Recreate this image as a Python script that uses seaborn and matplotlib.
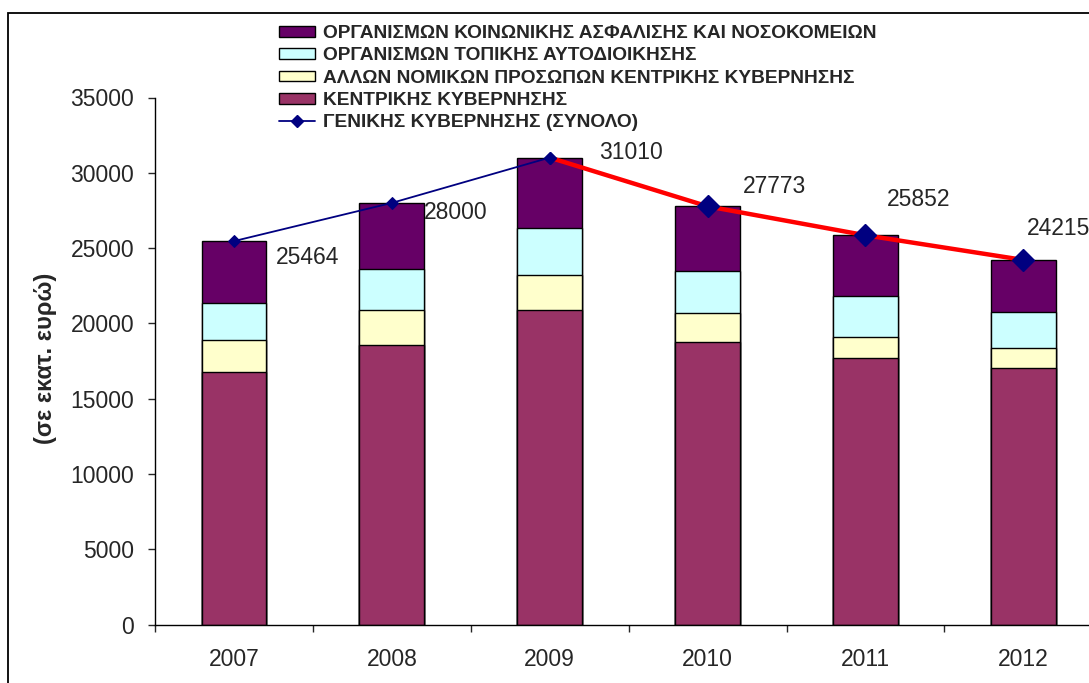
import numpy as np
import matplotlib
matplotlib.use("Agg")
import matplotlib.pyplot as plt
import seaborn as sns
from matplotlib.patches import Patch, Rectangle
from matplotlib.lines import Line2D

# Δεδομένα (εκατ. ευρώ)
years = ["2007", "2008", "2009", "2010", "2011", "2012"]
central = [16770, 18560, 20890, 18740, 17680, 17060]      # ΚΕΝΤΡΙΚΗΣ ΚΥΒΕΡΝΗΣΗΣ
other_legal = [2130, 2330, 2330, 1950, 1440, 1290]        # ΑΛΛΩΝ ΝΟΜΙΚΩΝ ΠΡΟΣΩΠΩΝ
local_gov = [2460, 2710, 3100, 2810, 2730, 2420]          # ΟΡΓΑΝΙΣΜΩΝ ΤΟΠΙΚΗΣ ΑΥΤΟΔΙΟΙΚΗΣΗΣ
social = [4104, 4400, 4690, 4273, 4002, 3445]             # ΟΡΓΑΝΙΣΜΩΝ ΚΟΙΝΩΝΙΚΗΣ ΑΣΦΑΛΙΣΗΣ
total = [25464, 28000, 31010, 27773, 25852, 24215]        # ΓΕΝΙΚΗΣ ΚΥΒΕΡΝΗΣΗΣ

labels = ["ΟΡΓΑΝΙΣΜΩΝ ΚΟΙΝΩΝΙΚΗΣ ΑΣΦΑΛΙΣΗΣ ΚΑΙ ΝΟΣΟΚΟΜΕΙΩΝ",
          "ΟΡΓΑΝΙΣΜΩΝ ΤΟΠΙΚΗΣ ΑΥΤΟΔΙΟΙΚΗΣΗΣ",
          "ΑΛΛΩΝ ΝΟΜΙΚΩΝ ΠΡΟΣΩΠΩΝ ΚΕΝΤΡΙΚΗΣ ΚΥΒΕΡΝΗΣΗΣ",
          "ΚΕΝΤΡΙΚΗΣ ΚΥΒΕΡΝΗΣΗΣ",
          "ΓΕΝΙΚΗΣ ΚΥΒΕΡΝΗΣΗΣ (ΣΥΝΟΛΟ)"]
colors = ["#660066", "#CCFFFF", "#FFFFCC", "#993366"]

sns.set_style("white")
plt.rcParams['font.family'] = ['Liberation Sans', 'DejaVu Sans']

fig = plt.figure(figsize=(10.89, 6.83), dpi=100)
ax = fig.add_axes([155 / 1089, 58.4 / 683, 947.3 / 1089, 527.1 / 683])

# στοιβαγμένες μπάρες (σωρευτικά, από το μεγαλύτερο προς το μικρότερο)
layers = [np.array(central), np.array(other_legal), np.array(local_gov), np.array(social)]
cum = np.cumsum(layers, axis=0)
for i, c in zip([3, 2, 1, 0], colors):
    sns.barplot(x=years, y=cum[i], color=c, saturation=1, width=0.41,
                edgecolor="black", linewidth=1, ax=ax)

pos = np.arange(len(years))
sns.lineplot(x=pos[:3], y=total[:3], color="#000080", lw=1.3, marker="D",
             markersize=6, mec="#000080", ax=ax)
sns.lineplot(x=pos[2:], y=total[2:], color="#FF0000", lw=3.2, ax=ax)
ax.plot(pos[3:], total[3:], ls="", marker="D", markersize=11, color="#000080")
ax.plot(pos[2:3], total[2:3], ls="", marker="D", markersize=6, color="#000080")

# ετικέτες τιμών
offsets = [(42, -16), (32, -10), (49, 5), (35, 20), (21, 36), (4, 31)]
for x, v, off in zip(pos, total, offsets):
    ax.annotate(str(v), (x, v), xytext=off, textcoords="offset pixels",
                ha="left", va="center", fontsize=16.5, annotation_clip=False)

ax.set_ylim(0, 35000)
ax.set_xlim(-0.5, 5.5)
ax.set_yticks(np.arange(0, 35001, 5000))
ax.set_xticks(pos)
ax.set_xticklabels(years)
ax.set_xticks(np.arange(-0.5, 6, 1), minor=True)
ax.tick_params(axis="x", which="major", length=0, pad=17, labelsize=16.5)
ax.tick_params(axis="x", which="minor", length=5, width=1, direction="out", bottom=True)
ax.tick_params(axis="y", length=5, width=1, direction="out", left=True, pad=10, labelsize=16.5)
for s in ["top", "right"]:
    ax.spines[s].set_visible(False)
for s in ["left", "bottom"]:
    ax.spines[s].set_color("black")
    ax.spines[s].set_linewidth(1)
ax.set_xlabel("")
ax.set_ylabel("(σε εκατ. ευρώ)", fontsize=17, fontweight="bold", va="center")
ax.yaxis.set_label_coords(-0.116, 0.506)

handles = [Patch(facecolor=c, edgecolor="black", linewidth=1) for c in colors]
handles.append(Line2D([], [], color="#000080", lw=1.3, marker="D", markersize=6))
fig.legend(handles, labels, loc="upper left", bbox_to_anchor=(279 / 1089, 1 - 25 / 683),
           bbox_transform=fig.transFigure, frameon=False, borderpad=0, borderaxespad=0,
           prop={"weight": "bold", "size": 13.8}, handlelength=1.9, handleheight=0.48,
           handletextpad=0.42, labelspacing=0.28)

# πλαίσιο γραφήματος
fig.patches.append(Rectangle((8 / 1089, -0.1), 1.2, 1.1 - 13 / 683, transform=fig.transFigure,
                             fill=False, edgecolor="black", linewidth=1.3, clip_on=False))

fig.savefig("out.png", dpi=100)
